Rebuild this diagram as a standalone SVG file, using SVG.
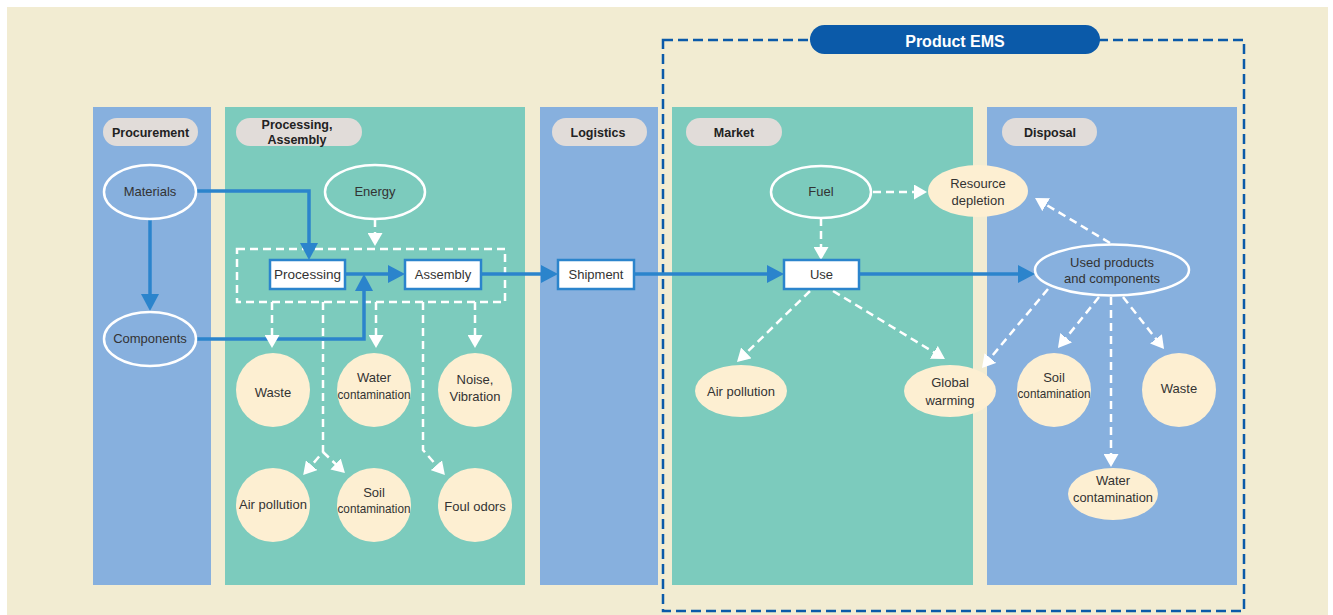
<svg xmlns="http://www.w3.org/2000/svg" width="1333" height="615" viewBox="0 0 1333 615">
<style>
text{font-family:"Liberation Sans",Arial,sans-serif;font-size:13px;fill:#333;text-anchor:middle}
.lbl{font-weight:bold;font-size:12.5px;fill:#222}
.col-b{fill:#87b0de}
.col-t{fill:#7ccbbd}
.pill{fill:#e1dcd9}
.ell-b{fill:#87b0de;stroke:#fff;stroke-width:2.5}
.ell-t{fill:#7ccbbd;stroke:#fff;stroke-width:2.5}
.imp{fill:#fdefd2}
.box{fill:#fff;stroke:#2b84cc;stroke-width:2.5}
.blue{fill:none;stroke:#2b84cc;stroke-width:3.5;marker-end:url(#ab)}
.wd{fill:none;stroke:#fff;stroke-width:2.5;stroke-dasharray:8 5;marker-end:url(#aw)}
</style>
<defs>
<marker id="ab" markerUnits="userSpaceOnUse" markerWidth="17" markerHeight="18" refX="1" refY="9" orient="auto"><path d="M0,0 L17,9 L0,18 z" fill="#2b84cc"/></marker>
<marker id="aw" markerUnits="userSpaceOnUse" markerWidth="13" markerHeight="15" refX="1" refY="7.5" orient="auto"><path d="M0,0 L13,7.5 L0,15 z" fill="#fff"/></marker>
</defs>
<rect x="7" y="7" width="1321" height="608" fill="#f2ecd2"/>
<g id="columns">
<rect class="col-b" x="93" y="107" width="118" height="478"/>
<rect class="col-t" x="225" y="107" width="300" height="478"/>
<rect class="col-b" x="540" y="107" width="118" height="478"/>
<rect class="col-t" x="672" y="107" width="301" height="478"/>
<rect class="col-b" x="987" y="107" width="250" height="478"/>
</g>
<g id="ems">
<rect x="663" y="40" width="581" height="571" fill="none" stroke="#0b5aa9" stroke-width="2.5" stroke-dasharray="10 5"/>
<rect x="810" y="25" width="290" height="29" rx="14.5" fill="#0b5aa9"/>
<text x="955" y="47" class="lbl" style="fill:#fff;font-size:16px">Product EMS</text>
</g>
<g id="labels">
<rect class="pill" x="103" y="118" width="95" height="28" rx="14"/>
<text class="lbl" x="150.5" y="136.5">Procurement</text>
<rect class="pill" x="236" y="118" width="126" height="28" rx="14"/>
<text class="lbl" x="297" y="129">Processing,</text>
<text class="lbl" x="297" y="144">Assembly</text>
<rect class="pill" x="552" y="118" width="95" height="28" rx="14"/>
<text class="lbl" x="598" y="136.5">Logistics</text>
<rect class="pill" x="686" y="118" width="96" height="28" rx="14"/>
<text class="lbl" x="734" y="136.5">Market</text>
<rect class="pill" x="1002" y="118" width="95" height="28" rx="14"/>
<text class="lbl" x="1050" y="136.5">Disposal</text>
</g>
<rect id="stage-box" x="237" y="249" width="268" height="53" fill="none" stroke="#fff" stroke-width="2.5" stroke-dasharray="8 5"/>
<g id="connectors">
<path class="blue" d="M196,191 H309 V244"/>
<path class="blue" d="M150,219 V295"/>
<path class="blue" d="M196,339 H364 V290"/>
<path class="blue" d="M345,274 H389"/>
<path class="blue" d="M481,274 H542"/>
<path class="blue" d="M634,274 H768"/>
<path class="blue" d="M859,274 H1019"/>
<path class="wd" d="M375,219 V234"/>
<path class="wd" d="M272,302 V336"/>
<path class="wd" d="M323,302 V452 L311,466"/>
<path class="wd" d="M323,452 L336.3,464.7"/>
<path class="wd" d="M376,302 V336"/>
<path class="wd" d="M423,302 V450 L437,466"/>
<path class="wd" d="M475,302 V336"/>
<path class="wd" d="M873,192 H915"/>
<path class="wd" d="M821,218 V248"/>
<path class="wd" d="M810,291 L745.6,353.6"/>
<path class="wd" d="M833,291 L934.7,352.8"/>
<path class="wd" d="M1110,243 L1045.3,204.2"/>
<path class="wd" d="M1048,289 L989.7,358.8"/>
<path class="wd" d="M1099,297 L1065.5,338.6"/>
<path class="wd" d="M1111,297 V455"/>
<path class="wd" d="M1123,297 L1156.6,339.6"/>
</g>
<g id="materials"><ellipse class="ell-b" cx="150" cy="192" rx="46" ry="27"/><text x="150" y="196">Materials</text></g>
<g id="components"><ellipse class="ell-b" cx="150" cy="339" rx="46" ry="27"/><text x="150" y="343">Components</text></g>
<g id="energy"><ellipse class="ell-t" cx="375" cy="192" rx="50" ry="27"/><text x="375" y="196">Energy</text></g>
<g id="processing"><rect class="box" x="270" y="260" width="75" height="29"/><text x="307.5" y="279" textLength="67" lengthAdjust="spacingAndGlyphs">Processing</text></g>
<g id="assembly"><rect class="box" x="405" y="260" width="76" height="29"/><text x="443" y="279">Assembly</text></g>
<g id="shipment"><rect class="box" x="558" y="260" width="76" height="29"/><text x="596" y="279">Shipment</text></g>
<g id="use"><rect class="box" x="784" y="260" width="75" height="29"/><text x="821.5" y="279">Use</text></g>
<g id="fuel"><ellipse class="ell-t" cx="821" cy="192" rx="50" ry="26"/><text x="821" y="196">Fuel</text></g>
<g id="used-products"><ellipse class="ell-b" cx="1112" cy="270" rx="77" ry="25.5"/><text x="1112" y="267">Used products</text><text x="1112" y="283">and components</text></g>
<g id="p-waste"><circle class="imp" cx="273" cy="390" r="37"/><text x="273" y="397">Waste</text></g>
<g id="p-water"><circle class="imp" cx="374" cy="390" r="37"/><text x="374" y="382">Water</text><text x="374" y="399" textLength="73" lengthAdjust="spacingAndGlyphs">contamination</text></g>
<g id="p-noise"><circle class="imp" cx="475" cy="390" r="37"/><text x="475" y="384">Noise,</text><text x="475" y="401">Vibration</text></g>
<g id="p-air"><circle class="imp" cx="273" cy="505" r="37"/><text x="273" y="509" textLength="68" lengthAdjust="spacingAndGlyphs">Air pollution</text></g>
<g id="p-soil"><circle class="imp" cx="374" cy="505" r="37"/><text x="374" y="497">Soil</text><text x="374" y="513" textLength="73" lengthAdjust="spacingAndGlyphs">contamination</text></g>
<g id="p-foul"><circle class="imp" cx="475" cy="505" r="37"/><text x="475" y="511">Foul odors</text></g>
<g id="resource-depletion"><ellipse class="imp" cx="978" cy="191" rx="50" ry="26"/><text x="978" y="188">Resource</text><text x="978" y="205">depletion</text></g>
<g id="m-air"><ellipse class="imp" cx="741" cy="391" rx="46" ry="26"/><text x="741" y="396">Air pollution</text></g>
<g id="global-warming"><ellipse class="imp" cx="950" cy="391" rx="46" ry="26"/><text x="950" y="387">Global</text><text x="950" y="405">warming</text></g>
<g id="d-soil"><circle class="imp" cx="1054" cy="390" r="37"/><text x="1054" y="382">Soil</text><text x="1054" y="398" textLength="73" lengthAdjust="spacingAndGlyphs">contamination</text></g>
<g id="d-waste"><circle class="imp" cx="1179" cy="390" r="37"/><text x="1179" y="393">Waste</text></g>
<g id="d-water"><ellipse class="imp" cx="1113" cy="494" rx="45" ry="26"/><text x="1113" y="485">Water</text><text x="1113" y="502" textLength="80" lengthAdjust="spacingAndGlyphs">contamination</text></g>
</svg>
